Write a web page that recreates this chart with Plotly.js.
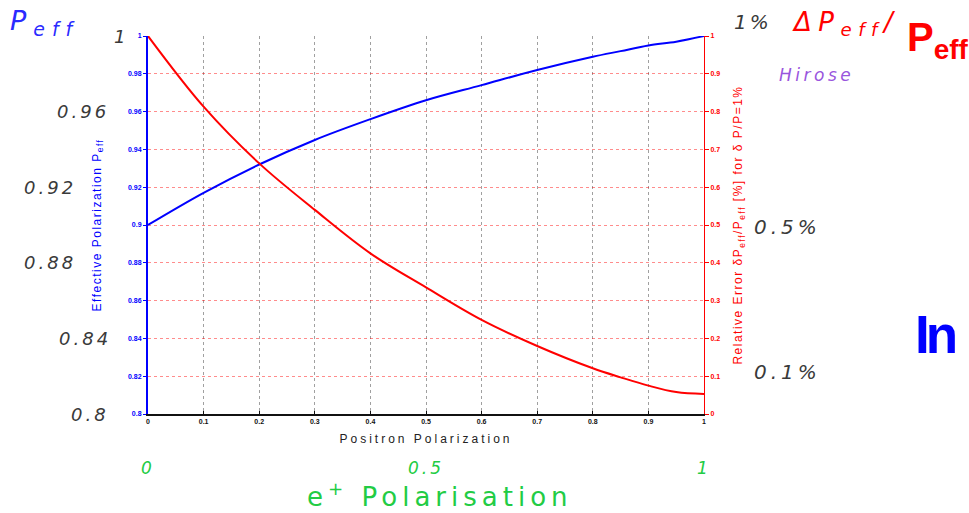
<!DOCTYPE html>
<html>
<head>
<meta charset="utf-8">
<script src="https://cdn.plot.ly/plotly-3.0.1.min.js"></script>
<style>
  html, body { margin: 0; padding: 0; background: #fff; }
  #chart { width: 969px; height: 513px; }
</style>
</head>
<body>
<div id="chart"></div>
<script>
// ---- data ----
const positronPol = [0, 0.1, 0.2, 0.3, 0.4, 0.5, 0.6, 0.7, 0.8, 0.85, 0.9, 0.95, 1.0];
const effPol      = [0.900, 0.917, 0.932, 0.945, 0.956, 0.966, 0.974, 0.982, 0.989, 0.992, 0.995, 0.997, 1.000];
const relError    = [1.000, 0.813, 0.663, 0.540, 0.425, 0.335, 0.249, 0.180, 0.121, 0.097, 0.075, 0.058, 0.053];

const leftBigTickVals   = [0.8, 0.84, 0.88, 0.92, 0.96, 1];
const leftBigTickText   = ['0.8', '0.84', '0.88', '0.92', '0.96', '1'];
const rightBigTickVals  = [1, 0.5, 0.1];
const rightBigTickText  = ['1%', '0.5%', '0.1%'];
const greenTickVals     = [0, 0.5, 1];
const greenTickText     = ['0', '0.5', '1'];

// ---- layout helpers (pixel -> paper) ----
const L = 148, R = 704, T = 36, B = 414;
const px = x => (x - L) / (R - L);
const py = y => (B - y) / (B - T);
const ls = (t, s) => '<span style="letter-spacing:' + s + 'px">' + t + '</span>';

// right edge (in pixels) of each big left label, as placed in the reference
const leftBigRightEdge = { '0.8': 111, '0.84': 113, '0.88': 78, '0.92': 78, '0.96': 111, '1': 130 };

const blue = '#0000ff', red = '#ff0000', green = '#22cc44', gray = '#3a3a3a';

const traces = [
  { x: positronPol, y: effPol, type: 'scatter', mode: 'lines',
    line: { color: blue, width: 2, shape: 'spline' }, yaxis: 'y', hoverinfo: 'skip' },
  { x: positronPol, y: relError, type: 'scatter', mode: 'lines',
    line: { color: red, width: 2, shape: 'spline' }, yaxis: 'y2', hoverinfo: 'skip' }
];

const ann = [];
leftBigTickVals.forEach((v, i) => {
  const t = leftBigTickText[i];
  ann.push({ xref: 'paper', yref: 'y', x: px(leftBigRightEdge[t]), y: v,
    text: ls('<i>' + t + '</i>', 3), showarrow: false, xanchor: 'right', yanchor: 'middle',
    font: { family: 'DejaVu Sans', size: 18, color: gray } });
});
rightBigTickVals.forEach((v, i) => {
  ann.push({ xref: 'paper', yref: 'y2', x: v === 1 ? px(732) : px(752), y: v,
    yshift: v === 1 ? 14 : (v === 0.1 ? 4 : -2),
    text: ls('<i>' + rightBigTickText[i] + '</i>', v === 1 ? 3 : 4), showarrow: false, xanchor: 'left', yanchor: 'middle',
    font: { family: 'DejaVu Sans', size: 20, color: gray } });
});
greenTickVals.forEach((v, i) => {
  ann.push({ xref: 'x', yref: 'paper', x: v, y: py(468),
    text: ls('<i>' + greenTickText[i] + '</i>', 3), showarrow: false, xanchor: 'center', yanchor: 'middle',
    font: { family: 'DejaVu Sans', size: 17, color: green } });
});
ann.push(
  { xref: 'paper', yref: 'paper', x: px(8), y: py(22), xanchor: 'left', yanchor: 'middle', showarrow: false,
    text: ls('<i>P<sub>eff</sub></i>', 7), font: { family: 'DejaVu Sans', size: 27, color: '#2a2aff' } },
  { xref: 'paper', yref: 'paper', x: px(790), y: py(24), xanchor: 'left', yanchor: 'middle', showarrow: false,
    text: ls('<i>ΔP<sub>eff</sub>/</i>', 6.5), font: { family: 'DejaVu Sans', size: 26, color: red } },
  { xref: 'paper', yref: 'paper', x: px(905), y: py(40), xanchor: 'left', yanchor: 'middle', showarrow: false,
    text: '<b>P<sub>eff</sub></b>', font: { family: 'Liberation Sans', size: 40, color: red } },
  { xref: 'paper', yref: 'paper', x: px(777), y: py(75), xanchor: 'left', yanchor: 'middle', showarrow: false,
    text: ls('<i>Hirose</i>', 3.5), font: { family: 'DejaVu Sans', size: 17, color: '#9955dd' } },
  { xref: 'paper', yref: 'paper', x: px(913), y: py(334), xanchor: 'left', yanchor: 'middle', showarrow: false,
    text: ls('<b>In</b>', -4), font: { family: 'Liberation Sans', size: 53, color: blue } },
  { xref: 'paper', yref: 'paper', x: px(440), y: py(495), xanchor: 'center', yanchor: 'middle', showarrow: false,
    text: ls('e<sup>+</sup> Polarisation', 5), font: { family: 'DejaVu Sans', size: 26, color: green } }
);

const layout = {
  width: 969, height: 513,
  margin: { l: L, r: 969 - R, t: T, b: 513 - B, pad: 0 },
  paper_bgcolor: '#fff', plot_bgcolor: '#fff',
  showlegend: false,
  xaxis: {
    range: [0, 1], dtick: 0.1, tick0: 0,
    showline: true, linecolor: '#111', linewidth: 2, mirror: false,
    ticks: 'inside', ticklen: 3, tickcolor: '#111',
    showgrid: true, gridcolor: 'rgba(120,120,120,0.7)', griddash: 'dot', gridwidth: 1,
    zeroline: false,
    tickfont: { family: 'Liberation Sans', size: 7, color: '#111', weight: 'bold' },
    title: { text: ls('Positron Polarization', 3), standoff: 10,
      font: { family: 'Liberation Sans', size: 12, color: '#222' } }
  },
  yaxis: {
    range: [0.8, 1], dtick: 0.02, tick0: 0.8,
    showline: true, linecolor: blue, linewidth: 2,
    ticks: 'outside', ticklen: 3, tickcolor: blue,
    showgrid: true, gridcolor: 'rgba(255,0,0,0.45)', griddash: 'dot', gridwidth: 1,
    zeroline: false,
    tickfont: { family: 'Liberation Sans', size: 7, color: blue, weight: 'bold' },
    title: { text: ls('Effective Polarization P<sub>eff</sub>', 1.5), standoff: 24,
      font: { family: 'Liberation Sans', size: 12, color: blue } }
  },
  yaxis2: {
    range: [0, 1], dtick: 0.1, tick0: 0,
    overlaying: 'y', side: 'right', anchor: 'x',
    showline: true, linecolor: red, linewidth: 1,
    ticks: 'outside', ticklen: 4, tickcolor: red,
    showgrid: false, zeroline: false,
    tickfont: { family: 'Liberation Sans', size: 7, color: red, weight: 'bold' },
    title: { text: ls('Relative Error δP<sub>eff</sub>/P<sub>eff</sub> [%] for δ P/P=1%', 1.5), standoff: 14,
      font: { family: 'Liberation Sans', size: 12, color: red } }
  },
  annotations: ann
};

Plotly.newPlot('chart', traces, layout, { staticPlot: true, displayModeBar: false });
</script>
</body>
</html>
